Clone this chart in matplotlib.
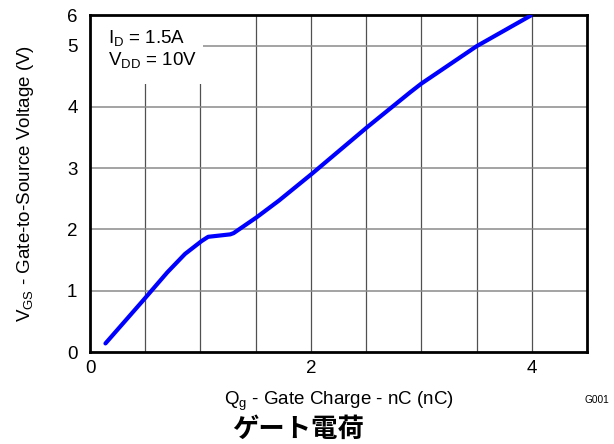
import matplotlib
matplotlib.use("Agg")
import matplotlib.pyplot as plt
from matplotlib.patches import Rectangle

plt.rcParams["font.family"] = ["Liberation Sans", "DejaVu Sans"]

# gate charge curve (nC, V)
qg = [0.14, 0.48, 0.70, 0.86, 1.01, 1.07, 1.27, 1.30, 1.51, 1.71, 2.01, 2.51, 2.90, 3.00, 3.50, 3.99]
vgs = [0.14, 0.84, 1.30, 1.60, 1.81, 1.88, 1.92, 1.94, 2.20, 2.47, 2.91, 3.67, 4.24, 4.38, 4.99, 5.49]

x_ticks = [0, 2, 4]
y_ticks = [0, 1, 2, 3, 4, 5, 5.5]
y_tick_labels = ["0", "1", "2", "3", "4", "5", "6"]

fig = plt.figure(figsize=(6.14, 4.44), dpi=100)
ax = fig.add_axes([90 / 614, 1 - 352 / 444, 497 / 614, 337 / 444])

ax.set_xlim(0, 4.5)
ax.set_ylim(0, 5.5)

# grid
for xv in [0.5, 1.0, 1.5, 2.0, 2.5, 3.0, 3.5, 4.0]:
    ax.axvline(xv, color="#505050", lw=0.9, zorder=1)
for yv in [1, 2, 3, 4, 5]:
    ax.axhline(yv, color="#8a8a8a", lw=1.1, zorder=1)

# condition box
ax.add_patch(Rectangle((0, 4.38), 1.02, 1.12, facecolor="white", edgecolor="none", zorder=2))
ax.text(0.16, 5.11, r"I$_\mathregular{D}$ = 1.5A", fontsize=13.5, va="center", zorder=3)
ax.text(0.16, 4.75, r"V$_\mathregular{DD}$ = 10V", fontsize=13.5, va="center", zorder=3)

ax.plot(qg, vgs, color="#0000ff", lw=3, solid_capstyle="round", zorder=4)

ax.set_xticks(x_ticks)
ax.set_yticks(y_ticks)
ax.set_yticklabels(y_tick_labels)
ax.tick_params(length=0, labelsize=13.5)
ax.tick_params(axis="y", pad=9)
ax.tick_params(axis="x", pad=6)
for s in ax.spines.values():
    s.set_linewidth(2)

ax.set_xlabel(r"Q$_\mathregular{g}$ - Gate Charge - nC (nC)", fontsize=13.5, labelpad=9)
ax.set_ylabel(r"V$_\mathregular{GS}$ - Gate-to-Source Voltage (V)", fontsize=13.5, labelpad=22)

fig.text(597 / 614, 1 - 400 / 444, "G001", fontsize=7.3, ha="center", va="center")
fig.text(298 / 614, 1 - 429 / 444, "ゲート電荷", fontsize=19, fontweight="bold",
         family=["Noto Sans CJK JP", "DejaVu Sans"], ha="center", va="center")

fig.savefig("out.png", dpi=100)
